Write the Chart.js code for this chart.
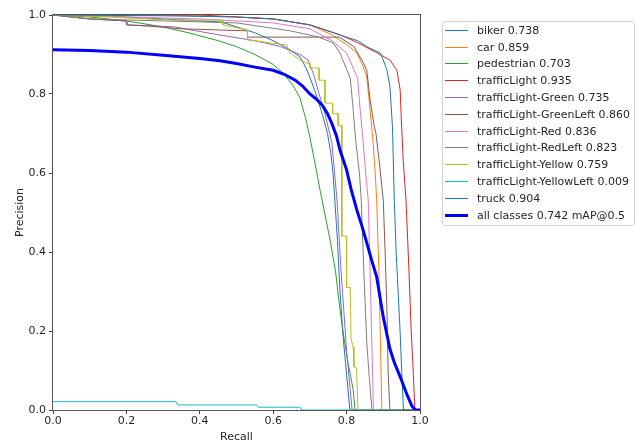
<!DOCTYPE html>
<html>
<head>
<meta charset="utf-8">
<script src="https://cdn.jsdelivr.net/npm/chart.js@4"></script>
<style>
  html, body { margin: 0; padding: 0; background: #fff; }
  #wrap { position: relative; width: 644px; height: 444px; }
  #c { position: absolute; left: 0; top: 0; }
  #legend { position: absolute; left: 442px; top: 21px; width: 191px; height: 203px;
    border: 1px solid #d4d4d4; border-radius: 3px; box-sizing: content-box;
    font-family: "DejaVu Sans", sans-serif; font-size: 11px; color: #262626; }
  .row { display: flex; align-items: center; height: 16.8px; white-space: nowrap; }
  .ln { display: inline-block; margin-left: 2px; width: 23px; }
  .tx { margin-left: 9px; }
</style>
</head>
<body>
<div id="wrap">
  <canvas id="c" width="644" height="444"></canvas>
  <div id="legend"></div>
</div>
<script>
// ---- data ----
const classNames = ["biker","car","pedestrian","trafficLight","trafficLight-Green","trafficLight-GreenLeft",
  "trafficLight-Red","trafficLight-RedLeft","trafficLight-Yellow","trafficLight-YellowLeft","truck"];
const classAP = [0.738,0.859,0.703,0.935,0.735,0.860,0.836,0.823,0.759,0.009,0.904];
const allClassesAP = 0.742;
const classColors = ["#1f77b4","#ff7f0e","#2ca02c","#d62728","#9467bd","#8c564b","#e377c2","#7f7f7f","#bcbd22","#17becf","#1f77b4"];

// recall / precision pairs per class
const bikerR = [0,0.1,0.2,0.3,0.4,0.46,0.5,0.55,0.6,0.64,0.673,0.69,0.705,0.72,0.735,0.748,0.757,0.763,0.768,0.775,0.782,0.79,0.80,0.809,1.0];
const bikerP = [1.0,0.998,0.995,0.99,0.985,0.982,0.97,0.955,0.935,0.915,0.894,0.865,0.83,0.79,0.745,0.7,0.65,0.6,0.53,0.43,0.3,0.19,0.09,0.0,0.0];
const carR = [0,0.3,0.5,0.6,0.7,0.76,0.8,0.828,0.845,0.855,0.864,0.872,0.878,0.882,0.888,0.892,0.896,1.0];
const carP = [1.0,1.0,0.995,0.99,0.975,0.95,0.925,0.904,0.87,0.843,0.76,0.68,0.6,0.53,0.35,0.18,0.0,0.0];
const pedR = [0,0.1,0.2,0.3,0.373,0.45,0.5,0.55,0.6,0.63,0.655,0.673,0.688,0.70,0.715,0.727,0.74,0.755,0.77,0.78,0.79,0.80,0.81,0.818,0.823,1.0];
const pedP = [1.0,0.995,0.985,0.97,0.954,0.935,0.92,0.9,0.875,0.85,0.82,0.79,0.74,0.69,0.62,0.56,0.5,0.43,0.35,0.27,0.2,0.14,0.09,0.05,0.0,0.0];
const tlR = [0,0.4,0.6,0.7,0.782,0.83,0.883,0.918,0.937,0.946,0.95,0.955,0.962,0.97,0.976,0.981,0.986,1.0];
const tlP = [1.0,1.0,0.99,0.975,0.95,0.93,0.904,0.886,0.86,0.81,0.716,0.62,0.53,0.35,0.2,0.11,0.0,0.0];
const tlGreenR = [0,0.1,0.2,0.2,0.33,0.45,0.55,0.62,0.673,0.695,0.71,0.725,0.74,0.76,0.774,0.785,0.80,0.815,1.0];
const tlGreenP = [1.0,0.99,0.985,0.975,0.97,0.95,0.935,0.92,0.9,0.886,0.85,0.8,0.755,0.676,0.53,0.35,0.15,0.0,0.0];
const tlGreenLeftR = [0,0.1,0.2,0.204,0.26,0.35,0.53,0.53,0.78,0.82,0.845,0.855,0.864,0.87,0.875,0.88,0.89,0.9,0.905,0.91,0.913,0.918,1.0];
const tlGreenLeftP = [1.0,0.99,0.985,0.975,0.972,0.965,0.96,0.944,0.944,0.92,0.88,0.86,0.785,0.75,0.72,0.7,0.62,0.53,0.4,0.25,0.1,0.0,0.0];
const tlRedR = [0,0.2,0.4,0.6,0.7,0.76,0.8,0.83,0.837,0.845,0.852,0.859,0.864,0.868,0.873,1.0];
const tlRedP = [1.0,0.995,0.99,0.98,0.965,0.935,0.904,0.84,0.76,0.68,0.6,0.53,0.35,0.2,0.0,0.0];
const tlRedLeftR = [0,0.1,0.3,0.5,0.646,0.72,0.763,0.782,0.81,0.818,0.825,0.835,0.84,0.847,0.855,0.862,0.869,1.0];
const tlRedLeftP = [1.0,0.99,0.985,0.98,0.96,0.945,0.93,0.904,0.84,0.76,0.68,0.6,0.53,0.35,0.17,0.08,0.0,0.0];
const tlYellowR = [0,0.15,0.32,0.463,0.463,0.53,0.53,0.637,0.646,0.673,0.70,0.70,0.725,0.725,0.741,0.741,0.762,0.762,0.777,0.777,0.787,0.787,0.80,0.80,0.81,0.812,0.818,0.82,0.827,0.831,1.0];
const tlYellowP = [1.0,0.995,0.987,0.987,0.975,0.962,0.937,0.924,0.904,0.886,0.875,0.866,0.866,0.835,0.835,0.777,0.777,0.75,0.75,0.72,0.72,0.44,0.44,0.31,0.31,0.18,0.16,0.11,0.106,0.0,0.0];
const tlYellowLeftR = [0,0.335,0.34,0.555,0.56,0.673,0.678,1.0];
const tlYellowLeftP = [0.021,0.021,0.0127,0.0127,0.007,0.007,0.0,0.0];
const truckR = [0,0.3,0.5,0.6,0.7,0.78,0.83,0.855,0.891,0.9,0.91,0.918,0.925,0.93,0.935,0.946,0.95,0.955,1.0];
const truckP = [1.0,0.998,0.995,0.99,0.975,0.95,0.935,0.92,0.904,0.886,0.86,0.82,0.716,0.53,0.4,0.195,0.1,0.0,0.0];
const allR = [0,0.1,0.2,0.3,0.4,0.455,0.5,0.55,0.6,0.63,0.66,0.68,0.7,0.72,0.735,0.748,0.76,0.772,0.782,0.8,0.812,0.828,0.842,0.855,0.868,0.882,0.892,0.9,0.918,0.93,0.946,0.962,0.978,0.988,1.0];
const allP = [0.912,0.91,0.906,0.898,0.89,0.884,0.877,0.868,0.86,0.85,0.835,0.82,0.8,0.785,0.77,0.75,0.725,0.695,0.658,0.608,0.56,0.506,0.465,0.423,0.38,0.337,0.28,0.235,0.155,0.12,0.084,0.045,0.01,0.0,0.0];

const classR = [bikerR,carR,pedR,tlR,tlGreenR,tlGreenLeftR,tlRedR,tlRedLeftR,tlYellowR,tlYellowLeftR,truckR];
const classP = [bikerP,carP,pedP,tlP,tlGreenP,tlGreenLeftP,tlRedP,tlRedLeftP,tlYellowP,tlYellowLeftP,truckP];
const xTicks = [0,0.2,0.4,0.6,0.8,1.0];
const yTicks = [0,0.2,0.4,0.6,0.8,1.0];

// ---- build chart ----
const zip = (r, p) => r.map((x, i) => ({x: x, y: p[i]}));
const datasets = classNames.map((n, i) => ({
  label: n + " " + classAP[i].toFixed(3),
  data: zip(classR[i], classP[i]),
  borderColor: classColors[i], borderWidth: 1, order: 20 - i
}));
datasets.push({
  label: "all classes " + allClassesAP.toFixed(3) + " mAP@0.5",
  data: zip(allR, allP), borderColor: "#0000ff", borderWidth: 3, order: 0
});

const frame = {
  id: "frame",
  afterDatasetsDraw(chart) {
    const a = chart.chartArea, ctx = chart.ctx;
    ctx.save(); ctx.strokeStyle = "#555555"; ctx.lineWidth = 1;
    ctx.strokeRect(Math.round(a.left) - 0.5, Math.round(a.top) - 0.5, Math.round(a.right - a.left) + 1, Math.round(a.bottom - a.top) + 1);
    ctx.restore();
  }
};
const bg = { id: "bg", beforeDraw(c) { const x = c.ctx; x.save(); x.fillStyle = "#fff"; x.fillRect(0,0,c.width,c.height); x.restore(); } };

const tickFont = { family: "DejaVu Sans", size: 11 };
new Chart(document.getElementById("c"), {
  type: "line",
  data: { datasets },
  options: {
    responsive: false, animation: false,
    layout: { padding: { left: 0, top: 15, right: 224, bottom: 0 } },
    elements: { point: { radius: 0 }, line: { tension: 0, fill: false } },
    plugins: { legend: { display: false }, tooltip: { enabled: false } },
    scales: {
      x: {
        type: "linear", min: 0, max: 1,
        afterFit: s => { s.height = 34; },
        afterBuildTicks: s => { s.ticks = xTicks.map(v => ({value: v})); },
        ticks: { font: tickFont, color: "#262626", padding: 1, maxRotation: 0, callback: v => v.toFixed(1) },
        grid: { drawOnChartArea: false, drawTicks: true, tickLength: 4, color: "#444" },
        border: { display: false },
        title: { display: true, text: "Recall", font: tickFont, color: "#262626", padding: { top: 0, bottom: 0 } }
      },
      y: {
        type: "linear", min: 0, max: 1,
        afterFit: s => { s.width = 53; },
        afterBuildTicks: s => { s.ticks = yTicks.map(v => ({value: v})); },
        ticks: { font: tickFont, color: "#262626", padding: 3, callback: v => v.toFixed(1) },
        grid: { drawOnChartArea: false, drawTicks: true, tickLength: 4, color: "#444" },
        border: { display: false },
        title: { display: true, text: "Precision", font: tickFont, color: "#262626", padding: { top: 14, bottom: 0 } }
      }
    }
  },
  plugins: [bg, frame]
});

// ---- legend (HTML text) ----
const leg = document.getElementById("legend");
datasets.forEach(d => {
  const row = document.createElement("div"); row.className = "row";
  const ln = document.createElement("span"); ln.className = "ln";
  ln.style.height = d.borderWidth + "px"; ln.style.background = d.borderColor;
  const tx = document.createElement("span"); tx.className = "tx"; tx.textContent = d.label;
  row.appendChild(ln); row.appendChild(tx); leg.appendChild(row);
});
</script>
</body>
</html>
